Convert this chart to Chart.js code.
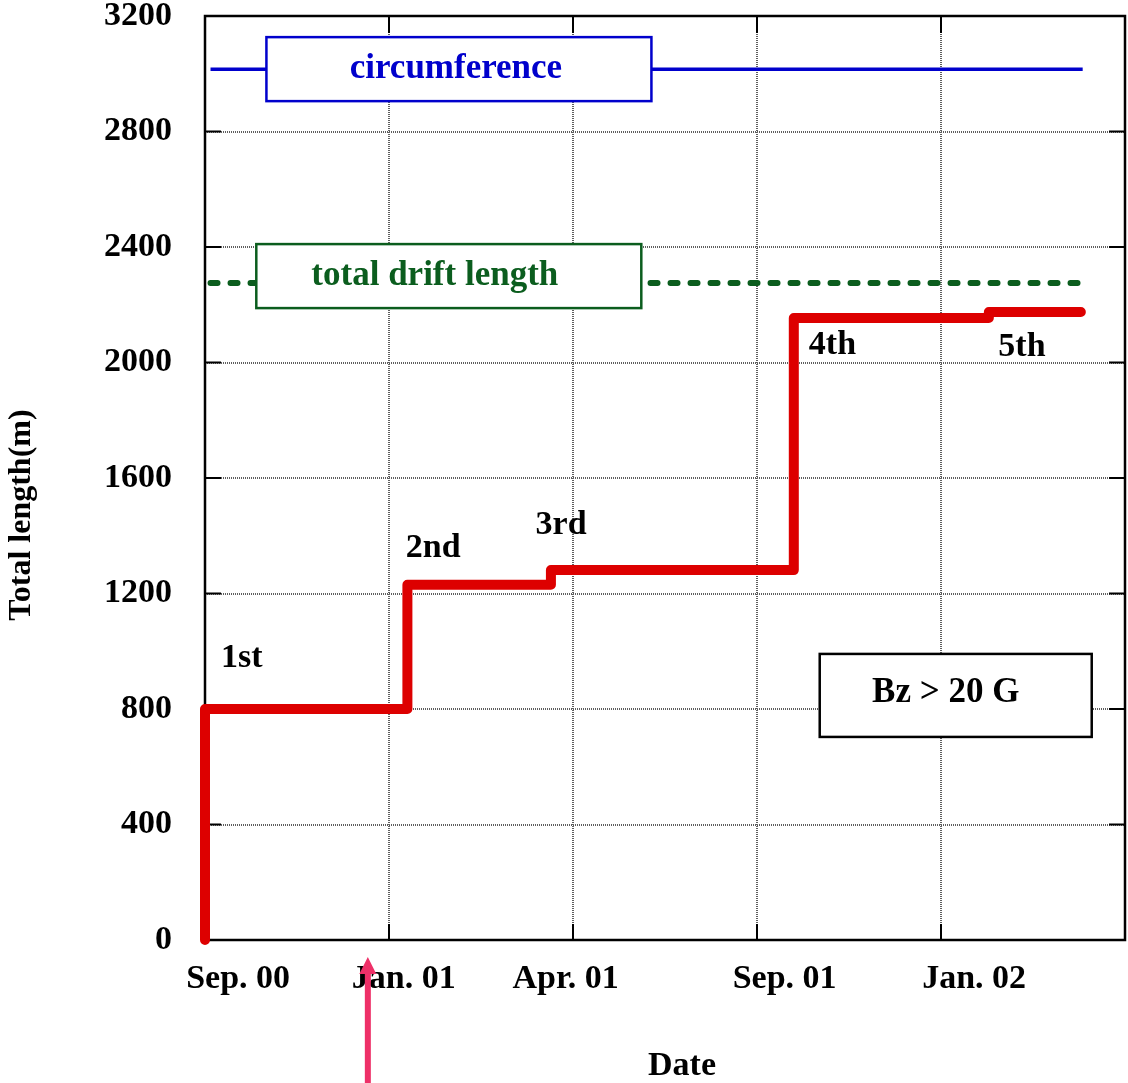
<!DOCTYPE html>
<html>
<head>
<meta charset="utf-8">
<script src="https://cdn.jsdelivr.net/npm/chart.js@4/dist/chart.umd.min.js"></script>
<style>
  html, body { margin: 0; padding: 0; background: #fff; }
  #wrap { width: 1128px; height: 1083px; }
</style>
</head>
<body>
<div id="wrap"><canvas id="chart" width="1128" height="1083"></canvas></div>
<script>
const SERIF = '"Liberation Serif", "Times New Roman", Times, serif';

// x axis: 0 = Sep. 00, one unit per labelled grid interval
const stepDates   = [0, 0, 1.10, 1.88, 3.20, 4.26, 4.76];
const totalLength = [0, 800, 1230, 1281, 2154, 2175, 2175];

const circumference = 3016;
const driftLength   = 2275;
const refSpan       = [0.03, 4.77];

const stageNames  = ['1st', '2nd', '3rd', '4th', '5th'];
const stageLabelX = [0.20, 1.24, 1.935, 3.41, 4.44];
const stageLabelY = [977, 1358, 1437, 2061, 2054];

const dateLabels   = ['Sep. 00', 'Jan. 01', 'Apr. 01', 'Sep. 01', 'Jan. 02'];
const dateLabelPos = [0.18, 1.08, 1.96, 3.15, 4.18];
const gridDates    = [0, 1, 2, 3, 4, 5];
const yTicks       = [0, 400, 800, 1200, 1600, 2000, 2400, 2800, 3200];

const markedDate = 0.885;

const pts = (xs, ys) => xs.map((x, i) => ({ x: x, y: ys[i] }));

const GRID = {
  color: '#5e5e5e',
  lineWidth: 2,
  drawTicks: false
};

const noPadding = s => {
  s.paddingTop = 0; s.paddingBottom = 0; s.paddingLeft = 0; s.paddingRight = 0;
};

// frame and inward tick marks
const framePlugin = {
  id: 'frame',
  beforeDatasetsDraw(chart) {
    const { ctx, chartArea: a, scales } = chart;
    ctx.save();
    ctx.strokeStyle = '#000';
    ctx.lineWidth = 2.5;
    ctx.strokeRect(a.left, a.top, a.right - a.left, a.bottom - a.top);
    ctx.lineWidth = 2;
    ctx.beginPath();
    yTicks.slice(1, -1).forEach(v => {
      const y = scales.y.getPixelForValue(v);
      ctx.moveTo(a.left, y); ctx.lineTo(a.left + 16, y);
      ctx.moveTo(a.right, y); ctx.lineTo(a.right - 16, y);
    });
    gridDates.slice(1, -1).forEach(v => {
      const x = scales.x.getPixelForValue(v);
      ctx.moveTo(x, a.bottom); ctx.lineTo(x, a.bottom - 16);
      ctx.moveTo(x, a.top); ctx.lineTo(x, a.top + 17);
    });
    ctx.stroke();
    ctx.restore();
  }
};

// labelled boxes on the reference lines, stage annotations, axis titles
const notesPlugin = {
  id: 'notes',
  afterDatasetsDraw(chart) {
    const { ctx, scales } = chart;
    const xs = scales.x, ys = scales.y;
    ctx.save();
    const box = (cx, cy, w, h, color, text, textColor, dx, dy) => {
      ctx.fillStyle = '#fff';
      ctx.fillRect(cx - w / 2, cy - h / 2, w, h);
      ctx.strokeStyle = color;
      ctx.lineWidth = 2.5;
      ctx.strokeRect(cx - w / 2, cy - h / 2, w, h);
      ctx.fillStyle = textColor;
      ctx.font = 'bold 35px ' + SERIF;
      ctx.textAlign = 'center';
      ctx.textBaseline = 'middle';
      ctx.fillText(text, cx + dx, cy + dy);
    };
    box(xs.getPixelForValue(1.38), ys.getPixelForValue(circumference), 385, 64,
        '#0000cc', 'circumference', '#0000cc', -3, 0);
    box(xs.getPixelForValue(1.325), ys.getPixelForValue(driftLength) - 7, 385, 64,
        '#0b5d1e', 'total drift length', '#0b5d1e', -14, 0);
    box(xs.getPixelForValue(4.08), ys.getPixelForValue(847), 272, 83,
        '#000', 'Bz > 20 G', '#000', -10, -2);

    ctx.fillStyle = '#000';
    ctx.font = 'bold 34px ' + SERIF;
    ctx.textAlign = 'center';
    ctx.textBaseline = 'middle';
    stageNames.forEach((s, i) => {
      ctx.fillText(s, xs.getPixelForValue(stageLabelX[i]), ys.getPixelForValue(stageLabelY[i]));
    });
    ctx.restore();
  },
  afterDraw(chart) {
    const { ctx, chartArea: a, scales } = chart;
    ctx.save();
    ctx.fillStyle = '#000';
    ctx.textAlign = 'center';
    ctx.textBaseline = 'middle';
    // x axis title
    ctx.font = 'bold 34px ' + SERIF;
    ctx.fillText('Date', (a.left + a.right) / 2 + 17, chart.height - 17);
    // y axis title
    ctx.save();
    ctx.translate(22, (a.top + a.bottom) / 2 + 37);
    ctx.rotate(-Math.PI / 2);
    ctx.font = 'bold 32px ' + SERIF;
    ctx.fillText('Total length(m)', 0, 0);
    ctx.restore();
    // arrow marking a date below the axis
    const x = scales.x.getPixelForValue(markedDate);
    const tip = a.bottom + 17;
    ctx.fillStyle = '#ee3068';
    ctx.fillRect(x - 3, tip + 14, 6, chart.height - tip - 14);
    ctx.beginPath();
    ctx.moveTo(x, tip);
    ctx.lineTo(x + 8.5, tip + 17);
    ctx.lineTo(x - 8.5, tip + 17);
    ctx.closePath();
    ctx.fill();
    ctx.restore();
  }
};

new Chart(document.getElementById('chart'), {
  type: 'line',
  data: {
    datasets: [
      {
        label: 'Total length',
        data: pts(stepDates, totalLength),
        stepped: 'before',
        borderColor: '#dd0000',
        borderWidth: 10,
        borderJoinStyle: 'round',
        borderCapStyle: 'round',
        pointRadius: 0,
        fill: false,
        clip: 8,
        xAxisID: 'x',
        yAxisID: 'y'
      },
      {
        label: 'circumference',
        data: pts(refSpan, [circumference, circumference]),
        borderColor: '#0000cc',
        borderWidth: 3.5,
        pointRadius: 0,
        fill: false,
        xAxisID: 'x',
        yAxisID: 'y'
      },
      {
        label: 'total drift length',
        data: pts(refSpan, [driftLength, driftLength]),
        borderColor: '#0b5d1e',
        borderWidth: 6,
        borderDash: [7, 13],
        borderCapStyle: 'round',
        pointRadius: 0,
        fill: false,
        xAxisID: 'x',
        yAxisID: 'y'
      }
    ]
  },
  options: {
    responsive: false,
    animation: false,
    events: [],
    layout: { padding: { top: 16, right: 3, left: 0, bottom: 0 } },
    plugins: { legend: { display: false }, tooltip: { enabled: false } },
    scales: {
      x: {
        type: 'linear',
        position: 'bottom',
        min: 0,
        max: 5,
        afterBuildTicks: s => { s.ticks = gridDates.map(v => ({ value: v })); },
        afterFit: s => { s.height = 0; noPadding(s); },
        ticks: { display: false },
        grid: GRID,
        border: { display: false, dash: [1, 1] }
      },
      x2: {
        type: 'linear',
        position: 'bottom',
        min: 0,
        max: 5,
        afterBuildTicks: s => { s.ticks = dateLabelPos.map(v => ({ value: v })); },
        afterFit: s => { s.height = 143; noPadding(s); },
        ticks: {
          autoSkip: false,
          maxRotation: 0,
          minRotation: 0,
          padding: 19,
          color: '#000',
          font: { family: SERIF, size: 34, weight: 'bold' },
          callback: (v, i) => dateLabels[i]
        },
        grid: { display: false, drawTicks: false },
        border: { display: false }
      },
      y: {
        type: 'linear',
        min: 0,
        max: 3200,
        afterBuildTicks: s => { s.ticks = yTicks.map(v => ({ value: v })); },
        afterFit: s => { s.width = 205; noPadding(s); },
        ticks: {
          padding: 33,
          color: '#000',
          font: { family: SERIF, size: 34, weight: 'bold' },
          callback: v => String(v)
        },
        grid: GRID,
        border: { display: false, dash: [1, 1] }
      }
    }
  },
  plugins: [framePlugin, notesPlugin]
});
</script>
</body>
</html>
